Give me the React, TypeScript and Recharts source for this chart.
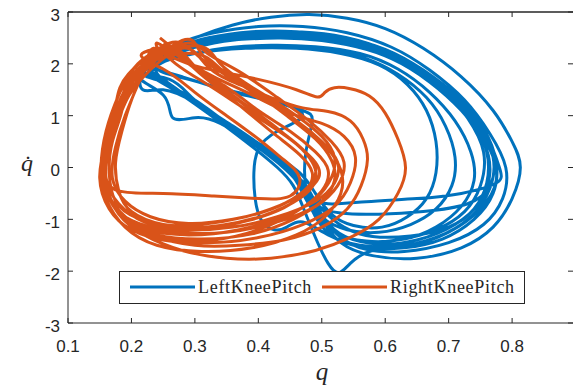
import React from 'react';
import { ScatterChart, Scatter, XAxis, YAxis } from 'recharts';

const BLUE = '#0072BD';
const ORANGE = '#D95319';
const AXIS = '#262626';

const xTicks = [0.1, 0.2, 0.3, 0.4, 0.5, 0.6, 0.7, 0.8];
const yTicks = [-3, -2, -1, 0, 1, 2, 3];

// LeftKneePitch loops, [q, qdot] pairs
const leftLoop1 = [
  [0.21, 1.85], [0.25, 2.2], [0.3, 2.5], [0.36, 2.75], [0.42, 2.9], [0.48, 2.95], [0.54, 2.88],
  [0.6, 2.68], [0.66, 2.3], [0.72, 1.75], [0.77, 1.1], [0.8, 0.5], [0.813, 0.0], [0.8, -0.6],
  [0.77, -1.15], [0.72, -1.55], [0.65, -1.75], [0.58, -1.7], [0.53, -1.45], [0.5, -1.0],
  [0.48, -0.55], [0.46, -0.2], [0.41, 0.3], [0.35, 0.85], [0.29, 1.35], [0.24, 1.7],
];
const leftLoop2 = [
  [0.22, 1.9], [0.27, 2.2], [0.33, 2.4], [0.4, 2.5], [0.47, 2.5], [0.54, 2.38], [0.61, 2.1],
  [0.67, 1.65], [0.72, 1.1], [0.755, 0.5], [0.765, -0.1], [0.75, -0.65], [0.71, -1.1],
  [0.65, -1.4], [0.59, -1.48], [0.54, -1.35], [0.505, -1.05], [0.48, -0.6], [0.455, -0.15],
  [0.41, 0.3], [0.35, 0.85], [0.29, 1.35], [0.25, 1.7],
];
const leftLoop3 = [
  [0.23, 1.95], [0.28, 2.15], [0.35, 2.3], [0.42, 2.36], [0.49, 2.33], [0.56, 2.2], [0.62, 1.9],
  [0.67, 1.45], [0.71, 0.9], [0.735, 0.3], [0.74, -0.25], [0.72, -0.75], [0.68, -1.15],
  [0.63, -1.38], [0.57, -1.42], [0.52, -1.25], [0.49, -0.9], [0.47, -0.5], [0.45, -0.1],
  [0.4, 0.4], [0.34, 0.85], [0.3, 0.96], [0.265, 0.96], [0.25, 1.4],
];
const leftLoop4 = [
  [0.21, 1.8], [0.26, 2.25], [0.32, 2.5], [0.39, 2.62], [0.46, 2.62], [0.53, 2.5], [0.6, 2.2],
  [0.66, 1.75], [0.72, 1.2], [0.76, 0.6], [0.78, 0.0], [0.775, -0.3], [0.72, -0.5],
  [0.65, -0.6], [0.57, -0.66], [0.51, -0.7], [0.48, -0.55], [0.46, -0.25], [0.42, 0.2],
  [0.36, 0.75], [0.3, 1.25], [0.25, 1.5], [0.218, 1.5],
];
const leftLoop5 = [
  [0.22, 1.88], [0.27, 2.25], [0.34, 2.48], [0.41, 2.55], [0.48, 2.55], [0.55, 2.42],
  [0.62, 2.1], [0.68, 1.6], [0.73, 1.0], [0.765, 0.35], [0.775, -0.25], [0.75, -0.8],
  [0.7, -1.25], [0.64, -1.5], [0.58, -1.6], [0.545, -1.85], [0.527, -2.03], [0.51, -1.85],
  [0.49, -1.35], [0.47, -0.75], [0.455, -0.35], [0.43, 0.0], [0.38, 0.5], [0.32, 1.05],
  [0.26, 1.55],
];
const leftLoop6 = [
  [0.23, 1.9], [0.29, 2.3], [0.36, 2.5], [0.44, 2.56], [0.51, 2.5], [0.58, 2.3], [0.64, 1.95],
  [0.7, 1.45], [0.745, 0.85], [0.77, 0.2], [0.765, -0.4], [0.735, -0.95], [0.68, -1.35],
  [0.62, -1.52], [0.56, -1.5], [0.51, -1.3], [0.47, -1.05], [0.445, -1.15], [0.425, -1.2],
  [0.405, -1.02], [0.395, -0.6], [0.393, -0.1], [0.4, 0.35], [0.43, 0.7], [0.47, 1.0],
  [0.43, 1.25], [0.36, 1.45], [0.29, 1.7],
];
const leftLoop7 = [
  [0.24, 1.95], [0.3, 2.35], [0.38, 2.55], [0.46, 2.6], [0.53, 2.52], [0.6, 2.28],
  [0.66, 1.88], [0.715, 1.35], [0.755, 0.75], [0.775, 0.1], [0.77, -0.5], [0.74, -1.0],
  [0.69, -1.38], [0.63, -1.55], [0.57, -1.55], [0.52, -1.35], [0.49, -0.95], [0.475, -0.4],
  [0.475, 0.3], [0.485, 0.9], [0.47, 1.1], [0.42, 1.3], [0.35, 1.5], [0.28, 1.75], [0.23, 1.9],
];
const leftLoop8 = [
  [0.225, 1.9], [0.28, 2.28], [0.35, 2.45], [0.43, 2.5], [0.5, 2.45], [0.57, 2.28], [0.63, 1.98],
  [0.69, 1.5], [0.73, 0.95], [0.755, 0.3], [0.75, -0.35], [0.725, -0.85], [0.68, -1.2],
  [0.62, -1.4], [0.56, -1.42], [0.52, -1.2], [0.495, -0.8], [0.475, -0.35], [0.44, 0.05],
  [0.39, 0.5], [0.33, 1.0], [0.27, 1.5],
];
const leftLoop9 = [
  [0.23, 1.92], [0.29, 2.18], [0.36, 2.32], [0.44, 2.35], [0.51, 2.28], [0.57, 2.1], [0.62, 1.8],
  [0.665, 1.35], [0.695, 0.8], [0.71, 0.2], [0.705, -0.35], [0.68, -0.8], [0.64, -1.1],
  [0.59, -1.25], [0.54, -1.2], [0.5, -0.95], [0.48, -0.55], [0.46, -0.15], [0.42, 0.25],
  [0.36, 0.75], [0.3, 1.25], [0.25, 1.65],
];
const leftLoop10 = [
  [0.22, 1.85], [0.27, 2.35], [0.33, 2.6], [0.4, 2.72], [0.47, 2.72], [0.54, 2.6], [0.61, 2.32],
  [0.67, 1.88], [0.725, 1.3], [0.765, 0.65], [0.79, 0.0], [0.785, -0.6], [0.755, -1.1],
  [0.7, -1.45], [0.63, -1.62], [0.57, -1.58], [0.53, -1.35], [0.5, -0.95], [0.48, -0.5],
  [0.455, -0.1], [0.4, 0.4], [0.34, 0.95], [0.28, 1.45],
];
const leftLoop11 = [
  [0.23, 1.9], [0.29, 2.4], [0.37, 2.58], [0.45, 2.62], [0.52, 2.55], [0.59, 2.32], [0.65, 1.95],
  [0.705, 1.45], [0.745, 0.85], [0.77, 0.2], [0.765, -0.35], [0.73, -0.7], [0.66, -0.85],
  [0.59, -0.9], [0.53, -0.88], [0.49, -0.7], [0.465, -0.3], [0.43, 0.1], [0.37, 0.65],
  [0.31, 1.15], [0.26, 1.6],
];
const leftLoop12 = [
  [0.24, 1.95], [0.3, 2.2], [0.38, 2.3], [0.46, 2.3], [0.53, 2.2], [0.59, 1.98], [0.635, 1.6],
  [0.665, 1.1], [0.68, 0.5], [0.68, -0.1], [0.665, -0.6], [0.635, -0.95], [0.595, -1.15],
  [0.55, -1.12], [0.515, -0.9], [0.49, -0.5], [0.465, -0.1], [0.42, 0.3], [0.36, 0.8],
  [0.3, 1.3], [0.26, 1.7],
];
const leftLoop13 = [
  [0.22, 1.88], [0.28, 2.3], [0.35, 2.52], [0.43, 2.6], [0.5, 2.56], [0.57, 2.4], [0.635, 2.05],
  [0.69, 1.55], [0.735, 0.95], [0.76, 0.3], [0.76, -0.3], [0.74, -0.8], [0.7, -1.15],
  [0.64, -1.32], [0.58, -1.33], [0.535, -1.15], [0.5, -0.8], [0.475, -0.4], [0.45, 0.0],
  [0.4, 0.45], [0.34, 0.95], [0.28, 1.45],
];

// RightKneePitch loops
const rightLoop1 = [
  [0.245, 2.5], [0.28, 2.15], [0.32, 1.75], [0.37, 1.3], [0.42, 0.85], [0.46, 0.45],
  [0.49, 0.1], [0.495, -0.2], [0.47, -0.5], [0.42, -0.8], [0.36, -1.0], [0.29, -1.08],
  [0.23, -0.95], [0.19, -0.65], [0.17, -0.2], [0.175, 0.4], [0.19, 1.0], [0.21, 1.6], [0.23, 2.1],
];
const rightLoop2 = [
  [0.27, 2.42], [0.31, 2.1], [0.36, 1.7], [0.41, 1.3], [0.46, 0.9], [0.5, 0.5], [0.525, 0.1],
  [0.52, -0.3], [0.49, -0.65], [0.43, -0.95], [0.36, -1.15], [0.28, -1.2], [0.22, -1.05],
  [0.18, -0.7], [0.16, -0.2], [0.165, 0.4], [0.18, 1.0], [0.205, 1.6], [0.24, 2.1],
];
const rightLoop3 = [
  [0.29, 2.4], [0.32, 2.2], [0.37, 1.85], [0.43, 1.35], [0.48, 0.9], [0.515, 0.5],
  [0.535, 0.1], [0.525, -0.35], [0.49, -0.75], [0.43, -1.05], [0.35, -1.25], [0.27, -1.25],
  [0.21, -1.1], [0.175, -0.75], [0.155, -0.2], [0.16, 0.5], [0.175, 1.1], [0.2, 1.7],
  [0.235, 2.15], [0.27, 2.35],
];
const rightLoop4 = [
  [0.217, 2.2], [0.25, 1.9], [0.3, 1.45], [0.35, 1.0], [0.4, 0.55], [0.44, 0.15], [0.465, -0.2],
  [0.45, -0.55], [0.4, -0.6], [0.33, -0.55], [0.25, -0.5], [0.18, -0.45], [0.155, -0.1],
  [0.16, 0.5], [0.175, 1.2], [0.195, 1.8],
];
const rightLoop5 = [
  [0.26, 2.3], [0.3, 1.95], [0.35, 1.55], [0.4, 1.1], [0.45, 0.7], [0.49, 0.3], [0.51, -0.05],
  [0.5, -0.45], [0.46, -0.85], [0.4, -1.2], [0.33, -1.4], [0.26, -1.42], [0.2, -1.2],
  [0.165, -0.8], [0.15, -0.2], [0.16, 0.5], [0.18, 1.2], [0.21, 1.8], [0.24, 2.15],
];
const rightLoop6 = [
  [0.25, 2.2], [0.29, 2.0], [0.34, 1.85], [0.4, 1.7], [0.46, 1.5], [0.493, 1.36], [0.505, 1.45],
  [0.52, 1.54], [0.545, 1.52], [0.575, 1.38], [0.6, 1.05], [0.62, 0.55], [0.632, 0.0],
  [0.62, -0.5], [0.59, -1.0], [0.545, -1.35], [0.49, -1.6], [0.42, -1.75], [0.35, -1.75],
  [0.28, -1.6], [0.22, -1.3], [0.18, -0.9], [0.16, -0.3], [0.165, 0.4], [0.185, 1.1], [0.215, 1.7],
];
const rightLoop7 = [
  [0.28, 2.3], [0.32, 1.95], [0.37, 1.6], [0.42, 1.35], [0.47, 1.15], [0.51, 1.08],
  [0.545, 0.9], [0.565, 0.55], [0.572, 0.15], [0.562, -0.35], [0.54, -0.8], [0.5, -1.15],
  [0.44, -1.4], [0.37, -1.5], [0.3, -1.5], [0.23, -1.3], [0.185, -0.95], [0.16, -0.4],
  [0.16, 0.3], [0.175, 1.0], [0.2, 1.65], [0.24, 2.1],
];
const rightLoop8 = [
  [0.24, 2.4], [0.28, 2.1], [0.33, 1.75], [0.39, 1.4], [0.45, 1.05], [0.5, 0.85], [0.535, 0.6],
  [0.553, 0.2], [0.545, -0.3], [0.52, -0.75], [0.47, -1.1], [0.4, -1.35], [0.32, -1.45],
  [0.25, -1.35], [0.195, -1.05], [0.165, -0.6], [0.155, 0.0], [0.165, 0.7], [0.185, 1.35],
  [0.215, 1.95],
];
const rightLoop9 = [
  [0.3, 2.35], [0.34, 2.0], [0.39, 1.55], [0.44, 1.1], [0.48, 0.7], [0.51, 0.35], [0.53, -0.05],
  [0.53, -0.5], [0.505, -0.95], [0.46, -1.3], [0.39, -1.55], [0.31, -1.62], [0.24, -1.5],
  [0.19, -1.15], [0.16, -0.6], [0.152, 0.0], [0.16, 0.7], [0.18, 1.4], [0.21, 2.0], [0.25, 2.35],
];
const rightLoop10 = [
  [0.255, 2.35], [0.29, 2.0], [0.34, 1.55], [0.39, 1.1], [0.435, 0.7], [0.47, 0.35], [0.49, 0.0],
  [0.48, -0.35], [0.44, -0.7], [0.38, -0.95], [0.31, -1.1], [0.25, -1.1], [0.2, -0.85],
  [0.18, -0.45], [0.175, 0.1], [0.185, 0.7], [0.2, 1.3], [0.22, 1.9],
];
const rightLoop11 = [
  [0.235, 2.3], [0.27, 2.0], [0.32, 1.6], [0.37, 1.2], [0.42, 0.8], [0.46, 0.45], [0.485, 0.1],
  [0.49, -0.25], [0.465, -0.6], [0.41, -0.92], [0.34, -1.12], [0.27, -1.15], [0.21, -0.98],
  [0.175, -0.65], [0.165, -0.1], [0.17, 0.5], [0.185, 1.1], [0.205, 1.7],
];
const rightLoop12 = [
  [0.28, 2.45], [0.31, 2.2], [0.355, 1.8], [0.41, 1.4], [0.46, 1.0], [0.5, 0.6], [0.52, 0.2],
  [0.515, -0.2], [0.49, -0.6], [0.44, -0.95], [0.37, -1.2], [0.29, -1.3], [0.22, -1.18],
  [0.18, -0.85], [0.16, -0.35], [0.158, 0.25], [0.17, 0.9], [0.19, 1.5], [0.225, 2.05],
];
const rightLoop13 = [
  [0.265, 2.25], [0.3, 1.9], [0.345, 1.45], [0.39, 1.0], [0.43, 0.6], [0.465, 0.25], [0.485, -0.1],
  [0.475, -0.45], [0.44, -0.78], [0.385, -1.02], [0.32, -1.18], [0.255, -1.2], [0.2, -1.02],
  [0.17, -0.7], [0.16, -0.25], [0.162, 0.35], [0.175, 0.95], [0.195, 1.55], [0.225, 2.0],
];
const rightLoop14 = [
  [0.3, 2.2], [0.345, 1.85], [0.4, 1.4], [0.45, 0.95], [0.49, 0.55], [0.515, 0.15], [0.52, -0.25],
  [0.5, -0.65], [0.455, -1.0], [0.39, -1.28], [0.31, -1.38], [0.24, -1.3], [0.19, -1.0],
  [0.165, -0.55], [0.158, 0.0], [0.168, 0.6], [0.185, 1.2], [0.21, 1.8], [0.25, 2.2],
];

const toPoints = (loops: number[][][]) =>
  loops.flat().map(([q, qd]) => ({ q, qd }));

const leftKnee = toPoints([
  leftLoop1, leftLoop2, leftLoop3, leftLoop4, leftLoop5, leftLoop6, leftLoop7,
  leftLoop8, leftLoop9, leftLoop10, leftLoop11, leftLoop12, leftLoop13,
]);
const rightKnee = toPoints([
  rightLoop1, rightLoop2, rightLoop3, rightLoop4, rightLoop5, rightLoop6, rightLoop7,
  rightLoop8, rightLoop9, rightLoop10, rightLoop11, rightLoop12, rightLoop13, rightLoop14,
]);

const FONT = 'Liberation Sans, Arial, sans-serif';
const tickFont = { fill: AXIS, fontSize: 17, fontFamily: FONT };
const noDot = () => <g />;
// MATLAB puts the y labels a little below their tick
const YTick = (p: any) => (
  <text x={p.x} y={p.y + 8.5} textAnchor="end" fill={AXIS} fontSize={17} fontFamily={FONT}>
    {p.payload.value}
  </text>
);
const X_DOMAIN: [number, number] = [0.1, 0.896];
const Y_DOMAIN: [number, number] = [-3, 3];

// plot box, only for the MATLAB-style frame on top and right
const BOX = { left: 68, right: 573, top: 12, bottom: 323 };
const frameX = (v: number) =>
  BOX.left + ((v - X_DOMAIN[0]) / (X_DOMAIN[1] - X_DOMAIN[0])) * (BOX.right - BOX.left);
const frameY = (v: number) =>
  BOX.bottom - ((v - Y_DOMAIN[0]) / (Y_DOMAIN[1] - Y_DOMAIN[0])) * (BOX.bottom - BOX.top);

export default function App() {
  return (
    <div style={{ position: 'absolute', left: 0, top: 0, width: 573, height: 389, background: '#fff' }}>
      <ScatterChart width={573} height={389} margin={{ top: 12, right: 0, bottom: 36, left: 28 }}>
        <XAxis
          type="number"
          dataKey="q"
          domain={X_DOMAIN}
          ticks={xTicks}
          allowDataOverflow
          height={30}
          stroke={AXIS}
          tickSize={-5}
          tickMargin={22}
          tick={tickFont}
        />
        <YAxis
          type="number"
          dataKey="qd"
          domain={Y_DOMAIN}
          ticks={yTicks}
          allowDataOverflow
          width={40}
          stroke={AXIS}
          tickSize={-5}
          tickMargin={13}
          tick={YTick}
        />
        <Scatter
          name="LeftKneePitch"
          data={leftKnee}
          line={{ stroke: BLUE, strokeWidth: 3 }}
          lineJointType="natural"
          shape={noDot}
          isAnimationActive={false}
        />
        <Scatter
          name="RightKneePitch"
          data={rightKnee}
          line={{ stroke: ORANGE, strokeWidth: 3 }}
          lineJointType="natural"
          shape={noDot}
          isAnimationActive={false}
        />
      </ScatterChart>
      <svg width={573} height={389} style={{ position: 'absolute', left: 0, top: 0, pointerEvents: 'none' }}>
        <path d={`M${BOX.left},${BOX.top} H${BOX.right}`} stroke={AXIS} strokeWidth={1.3} fill="none" />
        {xTicks.map((t) => (
          <line key={'tx' + t} x1={frameX(t)} x2={frameX(t)} y1={BOX.top} y2={BOX.top + 5} stroke={AXIS} strokeWidth={1} />
        ))}
        {yTicks.map((t) => (
          <line key={'ty' + t} x1={BOX.right - 5} x2={BOX.right} y1={frameY(t)} y2={frameY(t)} stroke={AXIS} strokeWidth={1} />
        ))}
        <text x={322} y={380} textAnchor="middle" fontFamily="Liberation Serif, serif" fontStyle="italic" fontSize={25} fill={AXIS}>q</text>
        <text x={27} y={171} textAnchor="middle" fontFamily="Liberation Serif, serif" fontStyle="italic" fontSize={24} fill={AXIS}>{'q\u0307'}</text>
        <rect x={119.5} y={271.5} width={405} height={32} fill="#fff" stroke={AXIS} strokeWidth={1} />
        <line x1={130} x2={195} y1={287} y2={287} stroke={BLUE} strokeWidth={3} />
        <text x={198} y={293} fontFamily="Liberation Serif, serif" fontSize={18} letterSpacing={0.7} fill={AXIS}>LeftKneePitch</text>
        <line x1={322} x2={387} y1={287} y2={287} stroke={ORANGE} strokeWidth={3} />
        <text x={390} y={293} fontFamily="Liberation Serif, serif" fontSize={18} letterSpacing={0.7} fill={AXIS}>RightKneePitch</text>
      </svg>
    </div>
  );
}
